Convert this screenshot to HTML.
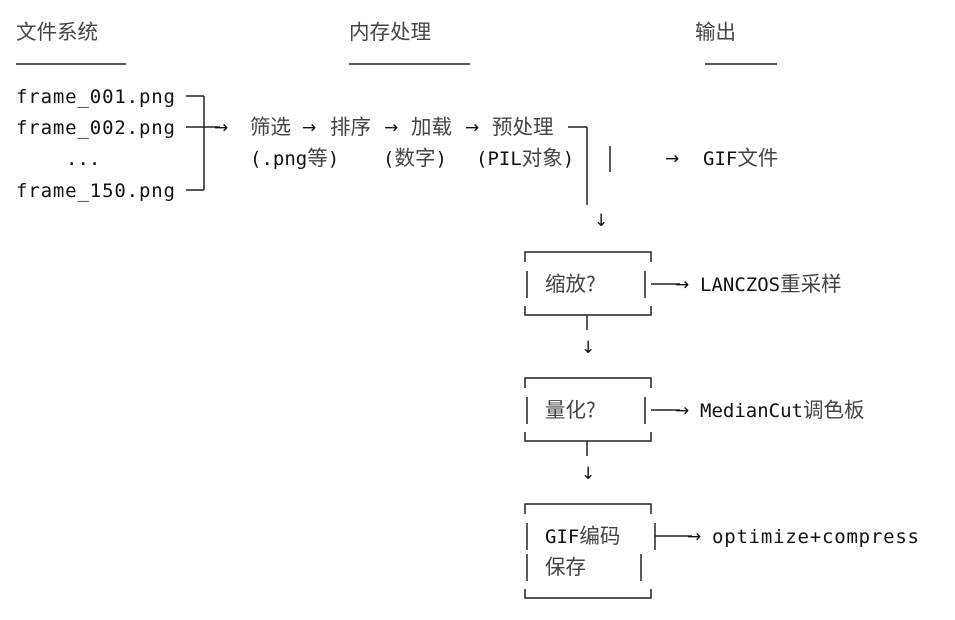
<!DOCTYPE html>
<html><head><meta charset="utf-8"><style>
html,body{margin:0;padding:0;background:#fff;width:955px;height:620px;overflow:hidden}
text{font-family:"DejaVu Sans Mono","Noto Sans CJK SC",monospace;font-size:19px;fill:#111}
.c{font-family:"Noto Sans CJK SC","DejaVu Sans Mono",sans-serif;fill:#444;font-size:20.5px}
.a{font-family:"DejaVu Sans",sans-serif;font-size:17px;fill:#111}
</style></head><body>
<svg width="955" height="620" viewBox="0 0 955 620" xmlns="http://www.w3.org/2000/svg">
<g>
<text class="c" x="16" y="39">文件系统</text>
<text class="c" x="349" y="39">内存处理</text>
<text class="c" x="695" y="39">输出</text>
</g>
<g stroke="#222" stroke-width="1.5" fill="none">
<line x1="16" y1="64" x2="126" y2="64"/>
<line x1="349" y1="64" x2="470" y2="64"/>
<line x1="705" y1="64" x2="777" y2="64"/>
<line x1="186" y1="96" x2="204" y2="96"/>
<line x1="204" y1="96" x2="204" y2="190"/>
<line x1="186" y1="127" x2="220" y2="127"/>
<line x1="186" y1="190" x2="204" y2="190"/>
<line x1="568" y1="127" x2="587" y2="127"/>
<line x1="587" y1="127" x2="587" y2="205"/>
<line x1="610" y1="146" x2="610" y2="172"/>
<path d="M525 262 V252 H651 V262"/><path d="M525 306 V315 H651 V306"/>
<line x1="527" y1="271" x2="527" y2="298"/><line x1="645" y1="271" x2="645" y2="298"/>
<line x1="651" y1="284" x2="680" y2="284"/>
<line x1="587" y1="315" x2="587" y2="330"/>
<path d="M525 388 V378 H651 V388"/><path d="M525 432 V441 H651 V432"/>
<line x1="527" y1="397" x2="527" y2="424"/><line x1="645" y1="397" x2="645" y2="424"/>
<line x1="651" y1="410" x2="680" y2="410"/>
<line x1="587" y1="441" x2="587" y2="456"/>
<path d="M525 514 V504 H651 V514"/><path d="M525 589 V598 H651 V589"/>
<line x1="527" y1="523" x2="527" y2="550"/><line x1="527" y1="554" x2="527" y2="581"/>
<line x1="655" y1="523" x2="655" y2="550"/><line x1="641" y1="554" x2="641" y2="581"/>
<line x1="655" y1="536" x2="692" y2="536"/>
</g>
<g>
<text x="16" y="103" textLength="159">frame_001.png</text>
<text x="16" y="134" textLength="159">frame_002.png</text>
<text x="66" y="165">...</text>
<text x="16" y="197" textLength="159">frame_150.png</text>
<text class="a" x="214" y="133">→</text>
<text class="c" x="250" y="134">筛选</text>
<text class="a" x="302" y="133">→</text>
<text class="c" x="330" y="134">排序</text>
<text class="a" x="384" y="133">→</text>
<text class="c" x="411" y="134">加载</text>
<text class="a" x="465" y="133">→</text>
<text class="c" x="492" y="134">预处理</text>
<text x="250" y="165">(.png<tspan class="c">等</tspan>)</text>
<text x="383" y="165">(<tspan class="c">数字</tspan>)</text>
<text x="476" y="165">(PIL<tspan class="c">对象</tspan>)</text>
<text class="a" x="665" y="164">→</text>
<text x="703" y="165">GIF<tspan class="c">文件</tspan></text>
<text class="a" x="594" y="226">↓</text>
<text class="c" x="545" y="291">缩放?</text>
<text class="a" x="675" y="290">→</text>
<text x="700" y="291">LANCZOS<tspan class="c">重采样</tspan></text>
<text class="a" x="581" y="353">↓</text>
<text class="c" x="545" y="417">量化?</text>
<text class="a" x="675" y="416">→</text>
<text x="700" y="417">MedianCut<tspan class="c">调色板</tspan></text>
<text class="a" x="581" y="479">↓</text>
<text x="545" y="543">GIF<tspan class="c">编码</tspan></text>
<text class="c" x="545" y="574">保存</text>
<text class="a" x="687" y="542">→</text>
<text x="712" y="543" textLength="207">optimize+compress</text>
</g>
</svg>
</body></html>
